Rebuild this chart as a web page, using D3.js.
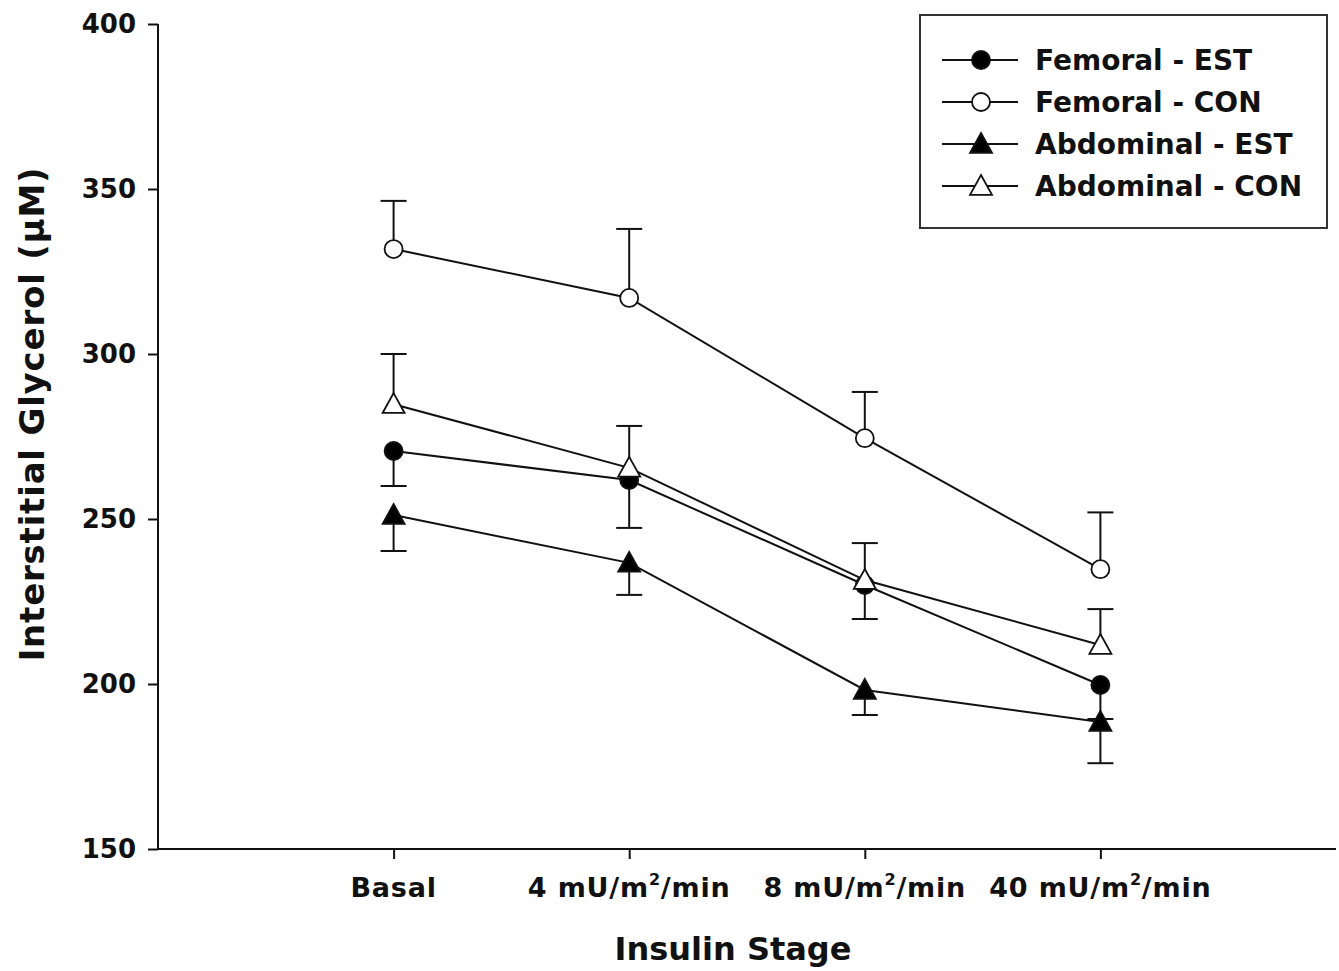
<!DOCTYPE html>
<html>
<head>
<meta charset="utf-8">
<script src="https://cdn.jsdelivr.net/npm/d3@7"></script>
<style>
  body { margin: 0; background: #fff; }
  text { font-family: "DejaVu Sans", Arial, sans-serif; font-weight: bold; fill: #111; }
</style>
</head>
<body>
<div id="chart"></div>
<script>
// Insulin stages
var stages = ["Basal", "4", "8", "40"];

// Means (uM)
var femoralEST = [270.6, 261.8, 230, 199.7];
var femoralCON = [331.8, 317, 274.5, 234.8];
var abdominalEST = [251.2, 236.7, 198.2, 188.5];
var abdominalCON = [284.8, 265.5, 231.5, 211.8];

// Error bar ends (CON up, EST down)
var femoralESTerr = [260, 247.3, 219.7, 189.4];
var femoralCONerr = [346.4, 337.9, 288.5, 252];
var abdominalESTerr = [240.3, 227, 190.6, 176];
var abdominalCONerr = [300, 278.2, 242.7, 222.7];

var yTicks = [150, 200, 250, 300, 350, 400];

var series = [
  { name: "Femoral - EST", values: femoralEST, err: femoralESTerr, shape: "circle", fill: "#000" },
  { name: "Femoral - CON", values: femoralCON, err: femoralCONerr, shape: "circle", fill: "#fff" },
  { name: "Abdominal - EST", values: abdominalEST, err: abdominalESTerr, shape: "triangle", fill: "#000" },
  { name: "Abdominal - CON", values: abdominalCON, err: abdominalCONerr, shape: "triangle", fill: "#fff" }
];

var width = 1339, height = 971;
var svg = d3.select("#chart").append("svg")
  .attr("width", width)
  .attr("height", height);

var x = d3.scaleLinear().domain([0, 5]).range([158, 1336]);
var y = d3.scaleLinear().domain([150, 400]).range([849, 24]);

var stroke = "#111";

// axes
var yAxis = d3.axisLeft(y).tickValues(yTicks).tickSize(10).tickPadding(12);
var yg = svg.append("g").attr("transform", "translate(158,0)").call(yAxis);
yg.select(".domain").attr("stroke", stroke).attr("stroke-width", 2).attr("d", "M0,24V849");
yg.selectAll(".tick line").attr("stroke", stroke).attr("stroke-width", 2);
yg.selectAll(".tick text")
  .style("font-family", "DejaVu Sans, Arial, sans-serif")
  .style("font-weight", "bold")
  .attr("font-size", 26)
  .attr("fill", "#111");

var xAxis = d3.axisBottom(x).tickValues([1, 2, 3, 4]).tickSize(10).tickFormat("");
var xg = svg.append("g").attr("transform", "translate(0,849)").call(xAxis);
xg.select(".domain").attr("stroke", stroke).attr("stroke-width", 2).attr("d", "M158,0H1336");
xg.selectAll(".tick line").attr("stroke", stroke).attr("stroke-width", 2);

// x tick labels with superscript
stages.forEach(function (s, i) {
  var t = svg.append("text")
    .attr("x", x(i + 1))
    .attr("y", 897)
    .attr("text-anchor", "middle")
    .attr("font-size", 27)
    .attr("letter-spacing", 0.8);
  if (s === "Basal") {
    t.text("Basal");
  } else {
    t.append("tspan").text(s + " mU/m");
    t.append("tspan").text("2").attr("font-size", 16).attr("dy", -12);
    t.append("tspan").text("/min").attr("dy", 12);
  }
});

// axis titles
svg.append("text")
  .attr("x", 733)
  .attr("y", 960)
  .attr("text-anchor", "middle")
  .attr("font-size", 32)
  .text("Insulin Stage");

svg.append("text")
  .attr("transform", "translate(44,414) rotate(-90)")
  .attr("text-anchor", "middle")
  .attr("font-size", 34)
  .attr("letter-spacing", 0.8)
  .text("Interstitial Glycerol (\u00b5M)");

// marker drawing
function drawMarker(g, shape, fill, cx, cy) {
  if (shape === "circle") {
    g.append("circle")
      .attr("cx", cx).attr("cy", cy).attr("r", 9)
      .attr("fill", fill).attr("stroke", stroke).attr("stroke-width", 1.8);
  } else {
    var s = 11;
    g.append("path")
      .attr("d", "M" + cx + "," + (cy - s) + "L" + (cx + s) + "," + (cy + s * 0.8) + "L" + (cx - s) + "," + (cy + s * 0.8) + "Z")
      .attr("fill", fill).attr("stroke", stroke).attr("stroke-width", 1.8);
  }
}

var line = d3.line()
  .x(function (d, i) { return x(i + 1); })
  .y(function (d) { return y(d); });

var plot = svg.append("g");

// error bars
series.forEach(function (s) {
  s.values.forEach(function (v, i) {
    var cx = x(i + 1);
    plot.append("line")
      .attr("x1", cx).attr("x2", cx)
      .attr("y1", y(v)).attr("y2", y(s.err[i]))
      .attr("stroke", stroke).attr("stroke-width", 2);
    plot.append("line")
      .attr("x1", cx - 13).attr("x2", cx + 13)
      .attr("y1", y(s.err[i])).attr("y2", y(s.err[i]))
      .attr("stroke", stroke).attr("stroke-width", 2);
  });
});

// lines
series.forEach(function (s) {
  plot.append("path")
    .attr("d", line(s.values))
    .attr("fill", "none")
    .attr("stroke", stroke)
    .attr("stroke-width", 2);
});

// markers
series.forEach(function (s) {
  s.values.forEach(function (v, i) {
    drawMarker(plot, s.shape, s.fill, x(i + 1), y(v));
  });
});

// legend
var legend = svg.append("g");
legend.append("rect")
  .attr("x", 920).attr("y", 15)
  .attr("width", 407).attr("height", 213)
  .attr("fill", "#fff").attr("stroke", "#333").attr("stroke-width", 2);

series.forEach(function (s, i) {
  var ly = 60 + i * 42;
  legend.append("line")
    .attr("x1", 942).attr("x2", 1018)
    .attr("y1", ly).attr("y2", ly)
    .attr("stroke", stroke).attr("stroke-width", 2);
  drawMarker(legend, s.shape, s.fill, 981, ly);
  legend.append("text")
    .attr("x", 1035).attr("y", ly + 10)
    .attr("font-size", 28)
    .text(s.name);
});
</script>
</body>
</html>
